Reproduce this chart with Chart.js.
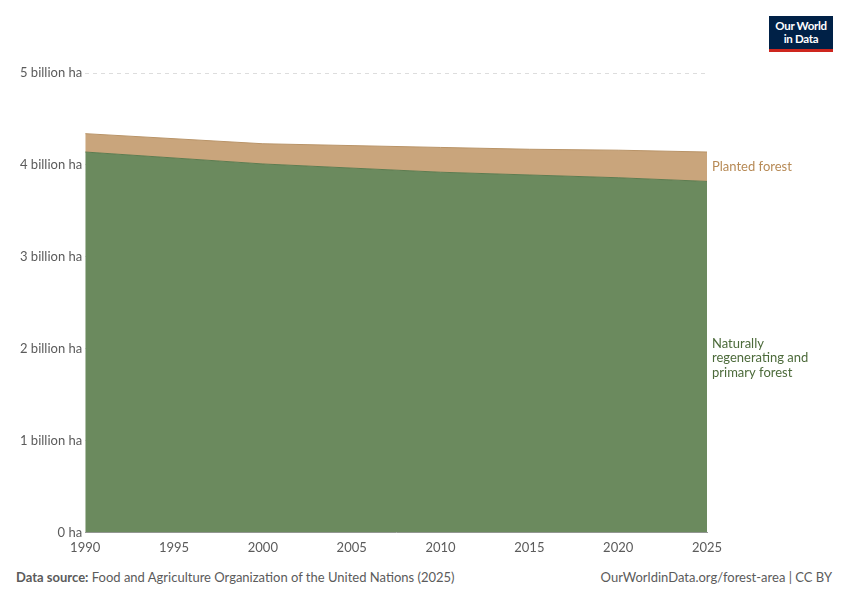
<!DOCTYPE html>
<html><head><meta charset="utf-8">
<script src="https://cdn.jsdelivr.net/npm/chart.js@4"></script>
<style>
body{margin:0;width:850px;height:600px;background:#fff;font-family:Lato,sans-serif;position:relative;overflow:hidden}
#c{position:absolute;left:0;top:57px}
#logo{position:absolute;left:769px;top:16px;width:64px;height:36px;background:#002147;color:#fff;font-size:11.5px;font-weight:bold;text-align:center;line-height:13px;padding-top:3px;box-sizing:border-box;border-bottom:3px solid #ce261e;letter-spacing:-0.3px}
.foot{position:absolute;top:569px;font-size:13px;color:#5b5b5b}
</style></head><body>
<div id="logo">Our World<br>in Data</div>
<canvas id="c" width="850" height="510"></canvas>
<div class="foot" style="left:16px"><b>Data source:</b> Food and Agriculture Organization of the United Nations (2025)</div>
<div class="foot" style="right:18px">OurWorldinData.org/forest-area | CC BY</div>
<script>
const years=[1990,2000,2010,2015,2020,2025];
const natural=[4.14,4.01,3.92,3.89,3.86,3.82];
const planted=[0.20,0.22,0.27,0.28,0.30,0.32];
const xTicks=[1990,1995,2000,2005,2010,2015,2020,2025];
const labelPlugin={id:'lbl',afterDraw(ch){const c=ch.ctx,y=ch.scales.y,x=ch.scales.x.right;c.save();c.font='13px Lato';c.textBaseline='middle';
c.fillStyle='#b78a56';c.fillText('Planted forest',x+5,y.getPixelForValue(3.98));
c.fillStyle='#4c6a3a';['Naturally','regenerating and','primary forest'].forEach((t,i)=>c.fillText(t,x+5,y.getPixelForValue(1.9)+(i-1)*14.5));c.restore();}};
new Chart(document.getElementById('c'),{type:'line',
data:{datasets:[
{label:'Natural',data:years.map((v,i)=>({x:v,y:natural[i]})),fill:'origin',backgroundColor:'#6b8a5e',borderColor:'#5e7c50',borderWidth:1,pointRadius:0,tension:0},
{label:'Planted',data:years.map((v,i)=>({x:v,y:planted[i]})),fill:'-1',backgroundColor:'#c9a57c',borderColor:'#b99468',borderWidth:1,pointRadius:0,tension:0}]},
options:{responsive:false,animation:false,devicePixelRatio:1,
layout:{padding:{left:17,right:143,top:16,bottom:11}},
plugins:{legend:{display:false},tooltip:{enabled:false}},
scales:{x:{type:'linear',min:1990,max:2025,afterBuildTicks(a){a.ticks=xTicks.map(v=>({value:v}))},grid:{display:false},border:{color:'#999'},ticks:{padding:0,color:'#5b5b5b',font:{size:13,family:'Lato'},maxRotation:0,autoSkip:false,callback:v=>String(v)}},
y:{stacked:true,min:0,max:5,ticks:{stepSize:1,color:'#5b5b5b',font:{size:13,family:'Lato'},callback:v=>v===0?'0 ha':v+' billion ha'},grid:{color:'#ddd',drawTicks:false,tickLength:0},border:{display:false,dash:[4,4]}}}},
plugins:[labelPlugin]});
</script>
</body></html>
